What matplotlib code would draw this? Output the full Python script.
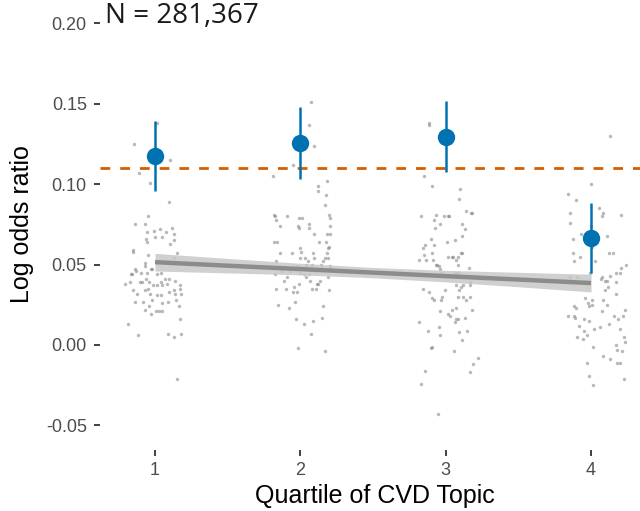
import matplotlib
matplotlib.use("Agg")
import matplotlib.pyplot as plt
import numpy as np

# jittered per-topic points (offset from quartile, log odds ratio)
jit_q1 = [0.012, -0.142, 0.103, -0.110, -0.037, 0.096, -0.046, -0.138, -0.071, 0.117,
          -0.055, -0.009, 0.034, 0.078, 0.128, -0.064, -0.002, 0.050, -0.053, 0.101,
          0.128, -0.149, -0.149, 0.154, -0.048, -0.066, -0.071, -0.028, -0.018, 0.131,
          -0.135, -0.131, -0.163, -0.156, -0.096, -0.057, 0.016, 0.041, -0.064, 0.071,
          0.096, -0.206, -0.172, -0.103, -0.087, -0.039, 0.016, 0.044, 0.138, -0.011,
          -0.048, 0.048, 0.080, 0.170, -0.154, -0.122, -0.066, -0.034, 0.012, 0.041,
          0.099, 0.131, 0.135, 0.174, 0.179, -0.140, -0.085, -0.023, 0.048, 0.092,
          0.145, 0.165, -0.071, -0.041, -0.025, 0.005, 0.025, 0.050, 0.172, -0.188,
          -0.119, 0.089, 0.131, 0.177, 0.151]
val_q1 = [0.138, 0.125, 0.115, 0.107, 0.101, 0.089, 0.080, 0.075, 0.075, 0.073,
          0.070, 0.071, 0.072, 0.070, 0.069, 0.066, 0.067, 0.067, 0.064, 0.063,
          0.065, 0.059, 0.058, 0.057, 0.056, 0.051, 0.049, 0.047, 0.047, 0.054,
          0.047, 0.046, 0.044, 0.044, 0.045, 0.045, 0.044, 0.045, 0.041, 0.041,
          0.041, 0.038, 0.039, 0.039, 0.039, 0.039, 0.037, 0.039, 0.040, 0.037,
          0.035, 0.037, 0.038, 0.037, 0.034, 0.032, 0.034, 0.032, 0.031, 0.031,
          0.033, 0.034, 0.032, 0.035, 0.032, 0.027, 0.027, 0.028, 0.026, 0.027,
          0.028, 0.024, 0.022, 0.024, 0.019, 0.021, 0.021, 0.021, 0.016, 0.013,
          0.006, 0.007, 0.005, 0.007, -0.021]

jit_q2 = [0.071, 0.062, 0.096, -0.048, -0.186, 0.184, 0.122, 0.124, 0.174, 0.167,
          -0.181, -0.174, -0.170, -0.092, -0.011, 0.009, 0.195, 0.202, -0.140, -0.014,
          -0.007, 0.062, 0.062, 0.204, 0.092, 0.184, 0.206, -0.179, -0.158, 0.131,
          0.179, 0.195, 0.193, -0.138, -0.055, -0.005, 0.005, 0.089, 0.184, -0.005,
          0.030, 0.096, 0.172, 0.188, -0.167, 0.050, 0.083, 0.156, -0.112, -0.023,
          0.037, 0.145, 0.202, -0.172, -0.126, -0.073, -0.030, -0.005, 0.023, 0.060,
          0.103, -0.092, 0.041, 0.064, -0.112, 0.193, -0.009, 0.133, 0.124, -0.170,
          -0.101, -0.043, -0.048, -0.023, 0.083, 0.105, 0.117, 0.197, -0.037, -0.154,
          -0.078, 0.156, -0.032, 0.028, 0.087, 0.147, 0.071, -0.018, 0.172]
val_q2 = [0.151, 0.137, 0.124, 0.112, 0.105, 0.102, 0.099, 0.096, 0.093, 0.087,
          0.081, 0.080, 0.078, 0.080, 0.079, 0.079, 0.081, 0.079, 0.074, 0.074,
          0.073, 0.075, 0.073, 0.074, 0.069, 0.069, 0.069, 0.064, 0.064, 0.064,
          0.064, 0.061, 0.060, 0.057, 0.057, 0.060, 0.058, 0.057, 0.057, 0.054,
          0.054, 0.054, 0.054, 0.054, 0.052, 0.052, 0.050, 0.052, 0.048, 0.049,
          0.050, 0.050, 0.049, 0.044, 0.046, 0.046, 0.047, 0.045, 0.044, 0.044,
          0.046, 0.042, 0.042, 0.040, 0.040, 0.042, 0.038, 0.040, 0.038, 0.035,
          0.035, 0.036, 0.033, 0.033, 0.035, 0.035, 0.038, 0.034, 0.027, 0.025,
          0.023, 0.024, 0.016, 0.013, 0.015, 0.017, 0.007, -0.002, -0.004]

jit_q3 = [-0.117, -0.117, -0.149, -0.094, 0.101, 0.089, -0.172, -0.067, -0.011, 0.016,
          0.021, 0.142, 0.177, 0.181, -0.083, -0.041, 0.110, -0.073, 0.131, 0.110,
          -0.099, 0.064, -0.140, -0.154, -0.078, 0.007, -0.092, -0.151, -0.183, -0.138,
          -0.085, -0.057, -0.048, 0.014, 0.041, 0.050, 0.085, 0.103, 0.112, 0.071,
          0.087, -0.069, -0.041, -0.034, 0.064, 0.087, 0.158, 0.165, 0.167, -0.156,
          -0.117, -0.092, -0.083, -0.032, -0.005, -0.028, 0.074, 0.092, 0.108, 0.122,
          0.083, 0.119, 0.140, 0.165, -0.041, 0.018, 0.032, 0.044, 0.069, 0.074,
          0.085, 0.067, 0.135, 0.183, -0.181, -0.119, -0.046, -0.039, 0.092, 0.145,
          0.110, -0.101, -0.094, 0.055, 0.220, 0.186, 0.165, -0.142, -0.172, -0.053]
val_q3 = [0.138, 0.137, 0.105, 0.099, 0.097, 0.091, 0.080, 0.081, 0.080, 0.080,
          0.080, 0.083, 0.082, 0.082, 0.078, 0.075, 0.075, 0.073, 0.072, 0.068,
          0.066, 0.065, 0.062, 0.060, 0.062, 0.064, 0.057, 0.056, 0.053, 0.053,
          0.053, 0.050, 0.049, 0.055, 0.055, 0.055, 0.055, 0.057, 0.057, 0.053,
          0.050, 0.050, 0.047, 0.045, 0.045, 0.045, 0.048, 0.039, 0.037, 0.035,
          0.033, 0.029, 0.028, 0.028, 0.034, 0.030, 0.037, 0.034, 0.036, 0.037,
          0.030, 0.030, 0.028, 0.030, 0.021, 0.019, 0.018, 0.022, 0.023, 0.016,
          0.016, 0.014, 0.017, 0.022, 0.014, 0.009, 0.011, 0.006, 0.008, 0.009,
          0.003, -0.002, -0.001, -0.004, -0.008, -0.012, -0.017, -0.016, -0.024, -0.043]

jit_q4 = [0.131, 0.000, -0.156, -0.105, 0.053, 0.083, -0.145, 0.076, 0.204, -0.147,
          -0.002, -0.067, 0.108, -0.126, 0.007, -0.122, 0.126, 0.149, -0.074, -0.117,
          0.028, 0.241, 0.209, -0.007, 0.172, 0.200, -0.096, -0.145, 0.076, 0.094,
          0.133, 0.108, 0.069, 0.174, 0.117, 0.098, 0.172, -0.044, 0.007, -0.023,
          0.009, 0.083, 0.112, -0.115, -0.105, -0.011, 0.078, -0.156, -0.119, -0.112,
          -0.046, -0.016, 0.158, 0.188, 0.218, -0.081, 0.018, 0.064, 0.122, 0.197,
          0.232, -0.048, -0.094, -0.057, -0.028, 0.229, 0.016, 0.170, 0.234, 0.181,
          0.215, 0.085, 0.129, 0.181, 0.200, -0.025, 0.227, -0.014, 0.012]
val_q4 = [0.130, 0.100, 0.094, 0.090, 0.085, 0.082, 0.082, 0.080, 0.081, 0.076,
          0.074, 0.069, 0.068, 0.066, 0.061, 0.057, 0.057, 0.057, 0.055, 0.052,
          0.052, 0.050, 0.048, 0.045, 0.045, 0.045, 0.042, 0.042, 0.042, 0.040,
          0.043, 0.040, 0.041, 0.039, 0.036, 0.034, 0.032, 0.029, 0.028, 0.026,
          0.025, 0.028, 0.025, 0.024, 0.023, 0.024, 0.021, 0.018, 0.018, 0.017,
          0.016, 0.015, 0.018, 0.016, 0.018, 0.012, 0.010, 0.011, 0.013, 0.010,
          0.022, 0.009, 0.005, 0.004, 0.006, 0.005, -0.001, 0.000, 0.002, -0.003,
          -0.004, -0.007, -0.009, -0.011, -0.011, -0.011, -0.021, -0.019, -0.025]

# pooled estimates per quartile
quartiles = [1, 2, 3, 4]
est = [0.1175, 0.1258, 0.1296, 0.0665]
ci_lo = [0.0958, 0.1034, 0.1076, 0.0446]
ci_hi = [0.1395, 0.1480, 0.1520, 0.0885]
overall = 0.110

# linear trend with confidence band
fit_x = [1.0, 1.5, 2.0, 2.5, 3.0, 3.5, 4.0]
fit_y = [0.0515, 0.0493, 0.0472, 0.0450, 0.0428, 0.0407, 0.0385]
fit_half = [0.0055, 0.0045, 0.0036, 0.0032, 0.0036, 0.0045, 0.0055]

fig = plt.figure(figsize=(6.4, 5.11), dpi=100)
ax = fig.add_axes([100 / 640, 1 - 450 / 511, 540 / 640, 445 / 511])

jits = [jit_q1, jit_q2, jit_q3, jit_q4]
vals = [val_q1, val_q2, val_q3, val_q4]
for q, j, v in zip(quartiles, jits, vals):
    ax.scatter(q + np.array(j), v, s=6, color="#7f7f7f", alpha=0.55, linewidths=0, zorder=1)

fx = np.array(fit_x)
fy = np.array(fit_y)
fh = np.array(fit_half)
ax.fill_between(fx, fy - fh, fy + fh, color="#c8c8c8", alpha=0.85, linewidth=0, zorder=2)
ax.plot(fx, fy, color="#8c8c8c", lw=3.2, solid_capstyle="butt", zorder=3)

ax.axhline(overall, color="#D55E00", lw=2, dashes=(3.5, 3.6), zorder=3)

ax.vlines(quartiles, ci_lo, ci_hi, color="#0072B2", lw=1.8, zorder=4)
ax.plot(quartiles, est, "o", color="#0072B2", ms=11.5, zorder=5)

ax.set_xlim(0.6215, 4.337)
ax.set_ylim(-0.0653, 0.2114)
ax.set_xticks(quartiles)
ax.set_yticks([-0.05, 0.0, 0.05, 0.10, 0.15, 0.20])
ax.set_yticklabels(["-0.05", "0.00", "0.05", "0.10", "0.15", "0.20"])
for s in ax.spines.values():
    s.set_visible(False)
ax.tick_params(axis="both", length=4.5, width=1.3, color="#333333", labelcolor="#4d4d4d",
               labelsize=13)
ax.tick_params(axis="y", pad=5)
ax.tick_params(axis="x", pad=4)
for lab in ax.get_xticklabels() + ax.get_yticklabels():
    lab.set_family("Liberation Sans")

fig.text(375 / 640, 1 - 503 / 511, "Quartile of CVD Topic", fontsize=18,
         family="Liberation Sans", ha="center", va="baseline")
fig.text(22 / 640, 1 - 224 / 511, "Log odds ratio", fontsize=18, rotation=90,
         family="Liberation Sans", ha="center", va="center")

fig.text(105 / 640, 1 - 23 / 511, "N = 281,367", fontsize=20, family="Open Sans",
         color="#1a1a1a", ha="left", va="baseline")

fig.savefig("out.png", dpi=100)
